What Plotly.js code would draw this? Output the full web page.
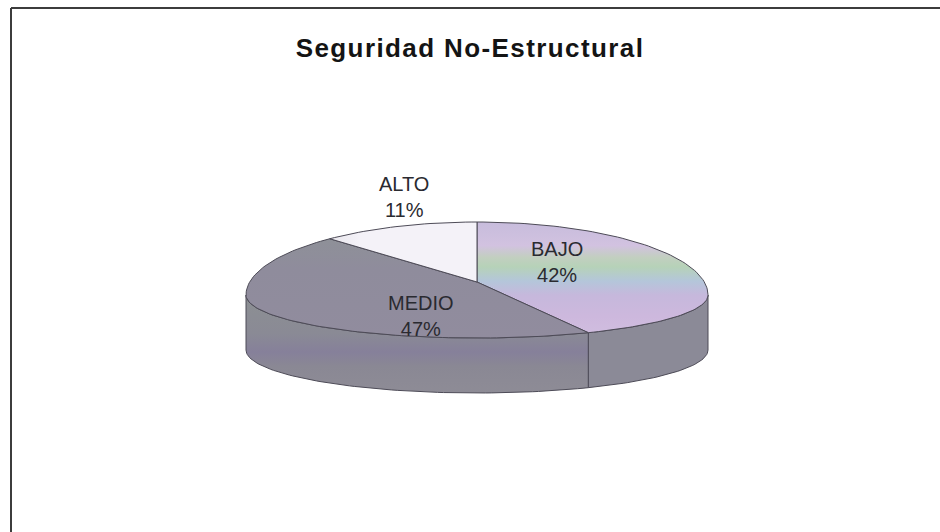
<!DOCTYPE html>
<html>
<head>
<meta charset="utf-8">
<script src="https://cdn.plot.ly/plotly-3.0.1.min.js"></script>
<style>
  html, body { margin: 0; padding: 0; background: #ffffff; }
  #chart { width: 940px; height: 532px; }
  #chart .gtitle { letter-spacing: 1.4px; }
</style>
</head>
<body>
<div id="chart"></div>
<script>
// Seguridad No-Estructural: share of buildings per risk level
const categories = ['BAJO', 'MEDIO', 'ALTO'];
const shares = [42, 47, 11];

// Colours of each slice: top face and side wall
const topColors = ['#cbbbdd', '#8f8c9b', '#f3f1f7'];
const sideColors = ['#8b8a97', '#8a8894', '#b9b7c0'];

// Where each label block is centred (pixel space)
const labelPos = {
  BAJO:  [557, 262],
  MEDIO: [421, 316],
  ALTO:  [404, 197]
};

// Tilted-disc geometry (pixel space, y grows downward)
const geo = {
  cx: 477, cy: 295,      // horizontal extreme line of the rim
  apexY: 282,            // where slice edges meet on the top face
  rx: 231,
  ryBack: 73, ryFront: 43,
  depth: 55
};

// Point on the rim; angle in degrees clockwise from 12 o'clock
function rim(angle, drop) {
  const a = angle * Math.PI / 180;
  const s = Math.sin(a), c = -Math.cos(a);
  const ry = c > 0 ? geo.ryFront : geo.ryBack;
  return [geo.cx + geo.rx * s, geo.cy + ry * c + (drop || 0)];
}

function arc(a0, a1, drop) {
  const pts = [];
  const n = Math.max(2, Math.ceil(Math.abs(a1 - a0) / 1.5));
  for (let i = 0; i <= n; i++) pts.push(rim(a0 + (a1 - a0) * i / n, drop));
  return pts;
}

const total = shares.reduce((a, b) => a + b, 0);
const slices = [];
let acc = 0;
shares.forEach((v, i) => {
  const a0 = acc / total * 360;
  acc += v;
  const a1 = acc / total * 360;
  slices.push({ name: categories[i], value: v, a0: a0, a1: a1, i: i });
});

const edge = { color: '#4d4b57', width: 1 };
const traces = [];

// Side walls: only the front half (90..270 deg) faces the viewer
slices.forEach(sl => {
  const lo = Math.max(sl.a0, 90), hi = Math.min(sl.a1, 270);
  if (hi <= lo) return;
  const top = arc(lo, hi, 0);
  const bottom = arc(hi, lo, geo.depth);
  const pts = top.concat(bottom);
  pts.push(top[0]);
  const tr = {
    type: 'scatter', mode: 'lines', fill: 'toself',
    x: pts.map(p => p[0]), y: pts.map(p => p[1]),
    line: edge, fillcolor: sideColors[sl.i],
    hoverinfo: 'skip', showlegend: false
  };
  if (sl.name === 'MEDIO') {
    tr.fillgradient = {
      type: 'vertical', start: 300, stop: 395,
      colorscale: [[0, '#8c8f93'], [0.35, '#8a8a95'], [0.55, '#86809a'],
                   [0.7, '#8a8894'], [1, '#8e8c96']]
    };
  }
  traces.push(tr);
});

// Top faces
slices.forEach(sl => {
  const pts = [[geo.cx, geo.apexY]].concat(arc(sl.a0, sl.a1, 0));
  pts.push([geo.cx, geo.apexY]);
  const tr = {
    type: 'scatter', mode: 'lines', fill: 'toself',
    x: pts.map(p => p[0]), y: pts.map(p => p[1]),
    line: edge, fillcolor: topColors[sl.i],
    hoverinfo: 'skip', showlegend: false
  };
  if (sl.name === 'BAJO') {
    tr.fillgradient = {
      type: 'vertical', start: 222, stop: 340,
      colorscale: [[0, '#c7bcdc'], [0.2, '#d2c2e0'], [0.3, '#c2cfc0'],
                   [0.38, '#b6d2b8'], [0.5, '#b4c6da'], [0.62, '#c6b8dc'],
                   [0.8, '#cdb8dd'], [1, '#d1bfe0']]
    };
  } else if (sl.name === 'MEDIO') {
    tr.fillgradient = {
      type: 'vertical', start: 222, stop: 340,
      colorscale: [[0, '#8e9396'], [0.4, '#8f8c9c'], [1, '#918c9e']]
    };
  } else if (sl.name === 'ALTO') {
    tr.fillgradient = {
      type: 'horizontal', start: 300, stop: 360,
      colorscale: [[0, '#b4b2b8'], [0.6, '#ebe9ef'], [1, '#f4f2f8']]
    };
  }
  traces.push(tr);
});

const annotations = slices.map(sl => ({
  x: labelPos[sl.name][0], y: labelPos[sl.name][1],
  xref: 'x', yref: 'y',
  text: sl.name + '<br>' + Math.round(sl.value / total * 100) + '%',
  showarrow: false,
  font: { family: 'Liberation Sans, Arial, sans-serif', size: 20, color: '#2a2a30' },
  align: 'center'
}));

const layout = {
  width: 940, height: 532,
  margin: { l: 0, r: 0, t: 0, b: 0 },
  paper_bgcolor: '#ffffff', plot_bgcolor: '#ffffff',
  showlegend: false,
  title: {
    text: 'Seguridad No-Estructural',
    font: { family: 'Liberation Sans, Arial, sans-serif', size: 26, weight: 'bold', color: '#141414' },
    x: 0.5, xanchor: 'center',
    y: 1 - 48 / 532, yanchor: 'middle', yref: 'container'
  },
  xaxis: { range: [0, 940], visible: false, fixedrange: true },
  yaxis: { range: [532, 0], visible: false, fixedrange: true },
  annotations: annotations,
  shapes: [
    { type: 'line', xref: 'paper', yref: 'paper', x0: 11 / 940, x1: 1, y0: 1 - 8 / 532, y1: 1 - 8 / 532,
      line: { color: '#3c3c3c', width: 2 } },
    { type: 'line', xref: 'paper', yref: 'paper', x0: 11 / 940, x1: 11 / 940, y0: 0, y1: 1 - 8 / 532,
      line: { color: '#3c3c3c', width: 2 } }
  ],
  hovermode: false
};

Plotly.newPlot('chart', traces, layout, { displayModeBar: false, staticPlot: true });
</script>
</body>
</html>
